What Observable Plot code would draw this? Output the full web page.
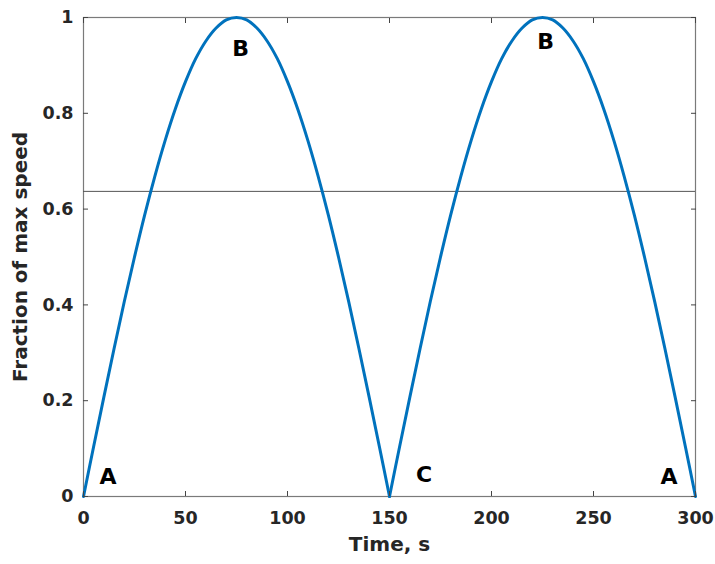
<!DOCTYPE html>
<html><head><meta charset="utf-8">
<script src="https://cdn.jsdelivr.net/npm/d3@7"></script>
<script src="https://cdn.jsdelivr.net/npm/@observablehq/plot@0.6"></script>
<style>body{margin:0;background:#fff} svg{font-family:"DejaVu Sans";}</style>
</head><body><div id="chart"></div>
<script>
// Values (every 5 s)
const time1 = [0,5,10,15,20,25,30,35,40,45,50,55,60,65,70,75,80,85,90,95,100,105,110,115,120,125,130,135,140,145,150];
const speed1 = [0,0.105,0.208,0.309,0.407,0.5,0.588,0.669,0.743,0.809,0.866,0.914,0.951,0.978,0.995,1,0.995,0.978,0.951,0.914,0.866,0.809,0.743,0.669,0.588,0.5,0.407,0.309,0.208,0.105,0];
const time2 = [150,155,160,165,170,175,180,185,190,195,200,205,210,215,220,225,230,235,240,245,250,255,260,265,270,275,280,285,290,295,300];
const speed2 = [0,0.105,0.208,0.309,0.407,0.5,0.588,0.669,0.743,0.809,0.866,0.914,0.951,0.978,0.995,1,0.995,0.978,0.951,0.914,0.866,0.809,0.743,0.669,0.588,0.5,0.407,0.309,0.208,0.105,0];
const meanSpeed = [0.637];
const xTicks = [0,50,100,150,200,250,300];
const yTicks = [0,0.2,0.4,0.6,0.8,1];
const yTickLabels = ["0","0.2","0.4","0.6","0.8","1"];
const pointLabels = ["A","B","C","B","A"];
const labelTime = [12,77,167,226.5,287];
const labelSpeed = [0.04,0.935,0.045,0.948,0.04];

const arch1 = time1.map((t,i)=>({t, v: speed1[i]}));
const arch2 = time2.map((t,i)=>({t, v: speed2[i]}));
const labels = pointLabels.map((s,i)=>({s, t: labelTime[i], v: labelSpeed[i]}));

const chart = Plot.plot({
  width: 715, height: 564,
  marginLeft: 83, marginRight: 20, marginTop: 17, marginBottom: 68,
  x: {domain: [0,300]},
  y: {domain: [0,1]},
  style: {fontFamily: "DejaVu Sans", fontWeight: "bold", fontSize: "17.5px", color: "#262626", background: "#fff"},
  marks: [
    Plot.frame({stroke: "#7a7a7a", strokeWidth: 1.2}),
    Plot.ruleY(meanSpeed, {stroke: "#555", strokeWidth: 1}),
    Plot.line(arch1, {x: "t", y: "v", stroke: "#0072BD", strokeWidth: 3, curve: "catmull-rom"}),
    Plot.line(arch2, {x: "t", y: "v", stroke: "#0072BD", strokeWidth: 3, curve: "catmull-rom"}),
    Plot.axisX(xTicks, {tickSize: 5, dy: -5, fill: "none", label: null, stroke: "#444"}),
    Plot.axisX(xTicks, {anchor: "top", tickSize: 5, dy: 5, fill: "none", label: null, stroke: "#444"}),
    Plot.axisY(yTicks, {tickSize: 5, dx: 5, fill: "none", label: null, stroke: "#444"}),
    Plot.axisY(yTicks, {anchor: "right", tickSize: 5, dx: -5, fill: "none", label: null, stroke: "#444"}),
    Plot.axisX(xTicks, {tickSize: 0, tickPadding: 15, label: null, fontSize: 17.5, fill: "#262626"}),
    Plot.axisY(yTicks, {tickSize: 0, tickPadding: 10, label: null, fontSize: 17.5, fill: "#262626",
      tickFormat: (d) => yTickLabels[yTicks.indexOf(d)]}),
    Plot.text(["Time, s"], {text: d => d, frameAnchor: "bottom", dy: 54, fontSize: 20, fill: "#262626"}),
    Plot.text(["Fraction of max speed"], {text: d => d, frameAnchor: "left", textAnchor: "middle", dx: -63, rotate: -90, fontSize: 20, fill: "#262626"}),
    Plot.text(labels, {x: "t", y: "v", text: "s", fontSize: 22, fill: "#000"})
  ]
});
document.getElementById("chart").appendChild(chart);
</script>
</body></html>
